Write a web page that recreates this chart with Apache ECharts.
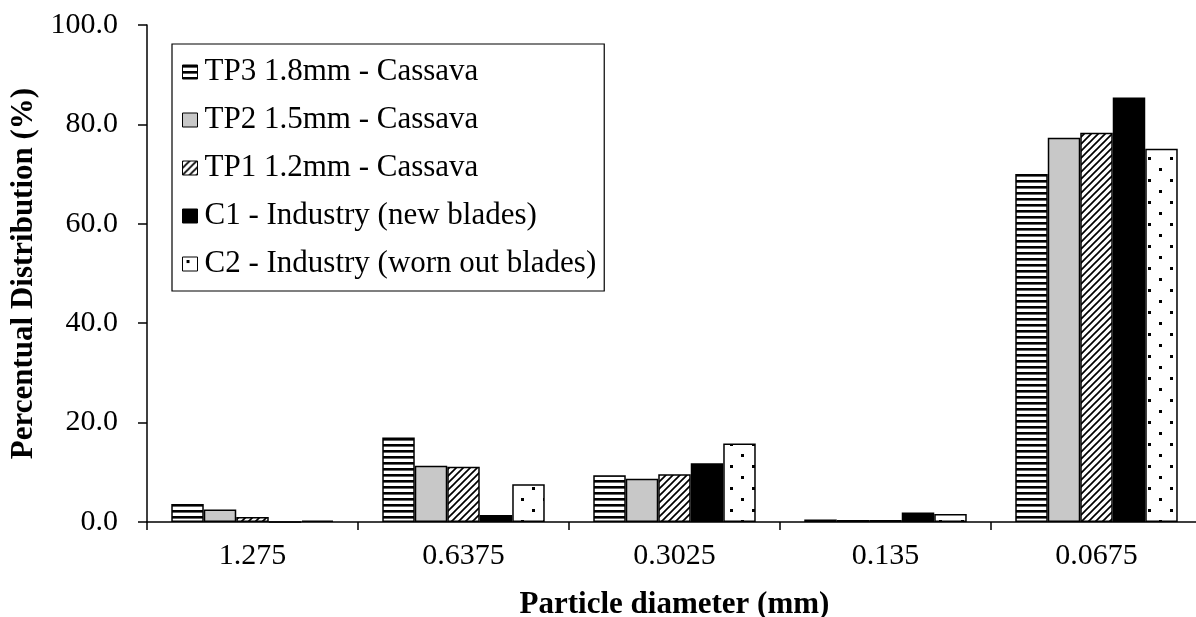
<!DOCTYPE html>
<html><head><meta charset="utf-8">
<script src="https://cdn.jsdelivr.net/npm/echarts@6/dist/echarts.min.js"></script>
<style>html,body{margin:0;padding:0;background:#fff}#c{width:1196px;height:617px}</style>
</head><body><div id="c"></div>
<script>
const categories = ['1.275','0.6375','0.3025','0.135','0.0675'];
const seriesNames = ['TP3 1.8mm - Cassava','TP2 1.5mm - Cassava','TP1 1.2mm - Cassava','C1 - Industry (new blades)','C2 - Industry (worn out blades)'];
const tp3 = [3.6, 17.0, 9.4, 0.5, 70.0];
const tp2 = [2.5, 11.3, 8.7, 0.4, 77.3];
const tp1 = [1.0, 11.1, 9.6, 0.4, 78.3];
const c1  = [0.0, 1.4, 11.8, 1.9, 85.4];
const c2  = [0.3, 7.6, 15.8, 1.6, 75.1];
const yTicks = [0, 20, 40, 60, 80, 100];

function mk(w,h,draw){const c=document.createElement('canvas');c.width=w;c.height=h;const g=c.getContext('2d');g.fillStyle='#fff';g.fillRect(0,0,w,h);draw(g);return c;}
const pH = mk(6,6,g=>{g.fillStyle='#000';g.fillRect(0,0,6,2.6);});
const pD = mk(7,7,g=>{g.strokeStyle='#000';g.lineWidth=1.7;g.beginPath();g.moveTo(-2,9);g.lineTo(9,-2);g.stroke();g.beginPath();g.moveTo(-2,2);g.lineTo(2,-2);g.stroke();g.beginPath();g.moveTo(5,9);g.lineTo(9,5);g.stroke();});
const pS = mk(22,22,g=>{g.fillStyle='#000';g.fillRect(4,3,3,3);g.fillRect(15,14,3,3);});
const fills = [{image:pH,repeat:'repeat'},'#c8c8c8',{image:pD,repeat:'repeat'},'#000',{image:pS,repeat:'repeat'}];
const datas = [tp3,tp2,tp1,c1,c2];
const FONT = '"Liberation Serif", "Times New Roman", serif';

const chart = echarts.init(document.getElementById('c'),null,{renderer:'canvas'});
chart.setOption({
  animation:false,
  backgroundColor:'#fff',
  textStyle:{fontFamily:FONT,color:'#000'},
  grid:{left:147,top:25,width:1055,height:497,containLabel:false,outerBoundsMode:'none'},
  legend:{
    left:172, top:44, orient:'vertical',
    borderColor:'#000', borderWidth:1.2,
    padding:[11,8,10,10],
    itemWidth:15, itemHeight:14, itemGap:14,
    textStyle:{fontFamily:FONT,fontSize:31,color:'#000',lineHeight:34,padding:[0,0,0,2]},
    data:seriesNames.map((n,i)=>({name:n,icon:'rect',itemStyle:{borderColor:'#000',borderWidth:1}}))
  },
  xAxis:{
    type:'category', data:categories,
    name:'Particle diameter (mm)', nameLocation:'middle', nameGap:67,
    nameTextStyle:{fontFamily:FONT,fontSize:31,fontWeight:'bold',color:'#000'},
    axisLine:{lineStyle:{color:'#000',width:1.5}},
    axisTick:{show:true,length:8,lineStyle:{color:'#000',width:1.5}},
    axisLabel:{fontFamily:FONT,fontSize:30,color:'#000',margin:19}
  },
  yAxis:{
    type:'value', min:0, max:100, interval:20,
    name:'Percentual Distribution (%)', nameLocation:'middle', nameGap:104,
    nameTextStyle:{fontFamily:FONT,fontSize:31,fontWeight:'bold',color:'#000'},
    axisLine:{show:true,lineStyle:{color:'#000',width:1.5}},
    axisTick:{show:true,length:9,lineStyle:{color:'#000',width:1.5}},
    splitLine:{show:false},
    axisLabel:{fontFamily:FONT,fontSize:30,color:'#000',margin:29,formatter:v=>yTicks.includes(v)?v.toFixed(1):''}
  },
  series:datas.map((d,i)=>({
    name:seriesNames[i], type:'bar', data:d,
    barGap:'0%', barCategoryGap:'23%',
    itemStyle:{color:fills[i],borderColor:'#000',borderWidth:1.5},
    emphasis:{disabled:true}
  }))
});
</script></body></html>
